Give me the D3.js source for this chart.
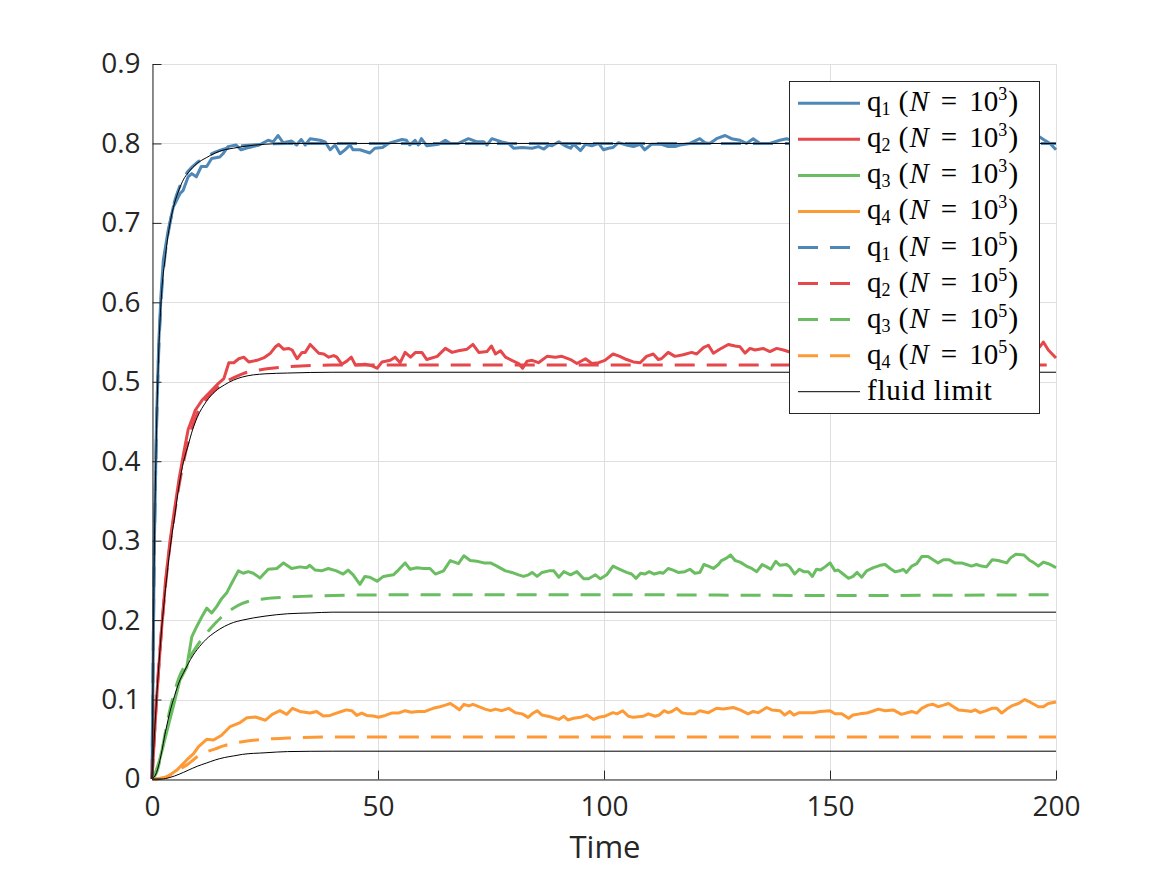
<!DOCTYPE html>
<html>
<head>
<meta charset="utf-8">
<script src="https://d3js.org/d3.v7.min.js"></script>
<style>
  body { margin: 0; background: #fff; }
  .axis text { font-family: "Open Sans", sans-serif; font-size: 28px; fill: #262626; }
  .axis path, .axis line { stroke: #262626; }
</style>
</head>
<body>
<div id="chart"></div>
<script>
// tick values / labels
var timeTicks = [0, 50, 100, 150, 200];
var timeTickLabels = ["0", "50", "100", "150", "200"];
var valueTicks = [0, 0.1, 0.2, 0.3, 0.4, 0.5, 0.6, 0.7, 0.8, 0.9];
var valueTickLabels = ["0", "0.1", "0.2", "0.3", "0.4", "0.5", "0.6", "0.7", "0.8", "0.9"];

// [time, value], N = 10^3 runs
var q1Small = [[0,0],[0.5,0.29],[1,0.45],[1.5,0.55],[2,0.61],[2.5,0.653],[3.6,0.691],[4.7,0.72],[6.2,0.737],[6.9,0.741],[8,0.758],[8.8,0.762],[9.8,0.758],[10.9,0.771],[12.1,0.771],[13.2,0.781],[15,0.783],[15.7,0.787],[16.8,0.796],[18.6,0.798],[19.7,0.792],[21.5,0.795],[23.7,0.798],[25.7,0.804],[26.8,0.802],[27.9,0.81],[29,0.801],[30.9,0.803],[32,0.798],[33,0.805],[33.9,0.798],[35,0.806],[37.2,0.804],[38.3,0.802],[39.4,0.792],[40.5,0.798],[41.6,0.787],[42.7,0.792],[43.8,0.798],[44.5,0.792],[46,0.792],[48.2,0.788],[49.3,0.794],[51,0.795],[52.3,0.8],[53.4,0.802],[55.3,0.805],[56.3,0.804],[57,0.798],[58.2,0.804],[58.9,0.798],[59.6,0.806],[60.8,0.797],[63.4,0.799],[64.9,0.804],[66,0.8],[67.8,0.8],[70,0.806],[71.9,0.802],[73.4,0.802],[74.1,0.798],[75.2,0.806],[77.4,0.802],[78.9,0.8],[80,0.794],[81.9,0.795],[84.1,0.794],[85.5,0.796],[86.7,0.793],[87.8,0.798],[88.5,0.797],[90,0.802],[91.4,0.797],[92.6,0.794],[93.3,0.799],[94.8,0.791],[95.9,0.799],[97.3,0.797],[98.8,0.8],[99.9,0.792],[101,0.794],[102,0.795],[103.2,0.801],[105,0.798],[106.5,0.796],[108,0.799],[109,0.792],[110.5,0.799],[112.7,0.799],[114.2,0.796],[115.7,0.796],[116.8,0.798],[119,0.8],[119.7,0.802],[121.2,0.806],[122.3,0.801],[123.4,0.8],[124.9,0.806],[126.8,0.81],[128.2,0.806],[130.1,0.804],[131.5,0.8],[133,0.806],[134.5,0.8],[136.7,0.8],[138.9,0.804],[140.4,0.806],[143,0.801],[146,0.797],[149,0.803],[152,0.799],[155,0.804],[158,0.798],[161,0.802],[164,0.796],[167,0.801],[170,0.805],[173,0.799],[176,0.802],[179,0.797],[182,0.803],[185,0.8],[188,0.796],[191,0.802],[194,0.805],[196.4,0.808],[197.5,0.804],[198.7,0.8],[200,0.792]];

var q2Small = [[0,0],[1,0.1],[2,0.18],[3,0.25],[4,0.3],[5,0.34],[6,0.378],[7,0.41],[8,0.44],[9,0.455],[9.6,0.4645],[11.1,0.477],[12.9,0.4875],[14.7,0.498],[15.9,0.504],[17,0.524],[18.1,0.524],[19.2,0.529],[20.3,0.531],[21.4,0.525],[23.2,0.527],[24.7,0.53],[26.2,0.536],[27.3,0.544],[28,0.547],[29.1,0.541],[30.2,0.542],[31,0.54],[32.1,0.529],[33.2,0.537],[33.9,0.537],[35,0.547],[36.9,0.536],[38,0.535],[39.1,0.531],[40.2,0.533],[40.9,0.531],[42,0.522],[43.1,0.526],[44.1,0.531],[45,0.521],[47.2,0.522],[48.7,0.52],[49.8,0.517],[50.9,0.525],[52.7,0.527],[53.8,0.531],[54.9,0.524],[56,0.537],[57.2,0.531],[58.3,0.537],[59.7,0.537],[60.8,0.528],[63.1,0.532],[64.9,0.542],[66.4,0.537],[67.8,0.539],[69.7,0.541],[71,0.547],[72.3,0.537],[74.1,0.538],[75.1,0.545],[76,0.535],[77.1,0.539],[78.2,0.531],[79.6,0.527],[81.1,0.523],[82,0.517],[83,0.526],[84.1,0.527],[85.5,0.524],[87.4,0.532],[89.2,0.531],[90.7,0.532],[92.6,0.528],[94,0.523],[95.9,0.529],[97.3,0.523],[98.8,0.524],[100.2,0.527],[102,0.535],[103.5,0.532],[105,0.528],[106.5,0.525],[108,0.524],[109.4,0.532],[110.9,0.535],[112,0.528],[112.7,0.529],[114.2,0.537],[115.7,0.532],[117.5,0.534],[119.4,0.537],[120.5,0.535],[122,0.543],[123.1,0.546],[124.2,0.536],[125.6,0.541],[127.5,0.547],[129,0.545],[130.1,0.544],[131.2,0.536],[132.3,0.542],[133.4,0.54],[135.2,0.542],[136.7,0.538],[138.2,0.542],[139.7,0.54],[143,0.534],[146,0.538],[149,0.531],[152,0.536],[155,0.541],[158,0.533],[161,0.537],[164,0.542],[167,0.535],[170,0.53],[173,0.536],[176,0.54],[179,0.534],[182,0.529],[185,0.535],[188,0.539],[191,0.532],[194,0.537],[196.4,0.544],[197.2,0.55],[198.3,0.54],[200,0.53]];

var q3Small = [[0,0],[0.3,0.001],[1.5,0.02],[3.2,0.058],[4.7,0.091],[6.2,0.125],[7.7,0.141],[8.8,0.179],[9.9,0.192],[11,0.204],[12.1,0.215],[13.2,0.209],[14.3,0.217],[15.4,0.227],[16.5,0.234],[17.6,0.246],[19.1,0.262],[20.2,0.259],[21.3,0.261],[22.4,0.259],[23.9,0.253],[25.7,0.264],[27.6,0.265],[29.1,0.272],[30.9,0.265],[32.7,0.267],[34.2,0.266],[34.9,0.269],[36.1,0.263],[37.5,0.262],[39,0.265],[40.8,0.262],[42.3,0.258],[43.4,0.263],[44.5,0.257],[46,0.245],[47.1,0.255],[48.2,0.254],[49.8,0.249],[51.2,0.255],[53.4,0.257],[54.5,0.263],[56,0.272],[57.1,0.264],[58.6,0.266],[60.1,0.265],[61.5,0.265],[62.7,0.258],[64.5,0.262],[66,0.275],[67.8,0.271],[69,0.281],[70.4,0.275],[71.9,0.274],[73.4,0.272],[74.9,0.272],[76.3,0.268],[78.2,0.262],[79.6,0.26],[81.1,0.257],[82.2,0.255],[83.3,0.257],[84.1,0.26],[85.2,0.255],[86.3,0.26],[87.8,0.262],[88.9,0.262],[90,0.254],[91.1,0.261],[92.6,0.257],[94,0.261],[95.5,0.252],[96.6,0.252],[98.1,0.257],[99.2,0.252],[100.6,0.257],[102,0.268],[103.5,0.264],[105,0.26],[106.1,0.258],[107.1,0.2526],[108.1,0.259],[109.1,0.258],[110,0.261],[111.1,0.258],[112.4,0.26],[113.1,0.259],[114.2,0.265],[115.3,0.263],[116.4,0.26],[117.9,0.261],[119,0.264],[120.1,0.259],[121.2,0.26],[122.1,0.27],[123.1,0.268],[124.2,0.265],[125.3,0.27],[126,0.275],[127.1,0.278],[128,0.282],[129,0.275],[130.1,0.273],[131.5,0.268],[132.7,0.265],[133.8,0.261],[135,0.27],[136,0.267],[136.9,0.264],[138,0.274],[138.9,0.269],[140.4,0.27],[141.1,0.267],[142.2,0.258],[143.2,0.264],[144.2,0.261],[145.2,0.261],[146.1,0.255],[147,0.264],[147.9,0.263],[148.9,0.267],[150,0.272],[151.1,0.262],[151.8,0.263],[152.9,0.258],[154.1,0.2526],[155.1,0.255],[156,0.26],[157,0.254],[158.1,0.262],[159.6,0.266],[161.1,0.269],[162.2,0.27],[163.3,0.265],[164.4,0.261],[165.5,0.262],[166.2,0.264],[166.9,0.26],[168.1,0.268],[169.2,0.271],[170.3,0.28],[171.7,0.28],[172.8,0.276],[173.9,0.272],[175.1,0.276],[176.4,0.276],[177.6,0.272],[179.1,0.272],[180.2,0.27],[181.3,0.268],[182.4,0.27],[183.5,0.268],[184.6,0.267],[185.9,0.276],[187.2,0.275],[189.1,0.272],[189.9,0.278],[191.1,0.283],[192.9,0.282],[194.2,0.275],[194.9,0.273],[196.1,0.268],[197.2,0.273],[198.3,0.271],[199.4,0.268],[200,0.266]];

var q4Small = [[0,0],[1,0],[3.2,0.002],[5.5,0.0112],[7.7,0.024],[9.2,0.032],[10.3,0.0407],[12.1,0.05],[13.6,0.049],[15.4,0.055],[17.3,0.066],[19.5,0.071],[21,0.077],[22.9,0.078],[25.1,0.074],[26.6,0.0814],[28.3,0.086],[29.8,0.0814],[31.1,0.089],[32.7,0.085],[35,0.083],[36.4,0.085],[37.9,0.0793],[39.4,0.08],[40.8,0.083],[41.9,0.085],[43,0.087],[44.2,0.086],[45.3,0.08],[46.4,0.083],[47.5,0.08],[49,0.0793],[50.1,0.0777],[51.6,0.08],[53,0.083],[54.5,0.083],[56,0.086],[57.4,0.084],[58.9,0.085],[60.4,0.085],[62.2,0.089],[63.7,0.091],[64.9,0.093],[66,0.095],[67.1,0.091],[68,0.087],[69,0.094],[70.1,0.092],[71,0.094],[72.3,0.091],[73.7,0.088],[74.9,0.086],[76,0.088],[77.4,0.086],[78.9,0.089],[80.4,0.0835],[81.9,0.082],[83.2,0.0776],[84.1,0.082],[85.2,0.086],[86.3,0.0805],[88.1,0.0784],[90,0.075],[91.1,0.079],[92,0.0743],[93.3,0.0764],[94.8,0.0776],[96.2,0.0805],[97.7,0.075],[98.8,0.0776],[100.2,0.079],[102,0.0835],[102.9,0.082],[104.1,0.086],[105.4,0.079],[106.5,0.0776],[108.7,0.079],[109.8,0.082],[111.3,0.079],[112.2,0.0805],[113.3,0.086],[114.2,0.0835],[115,0.085],[116.1,0.089],[117.2,0.0835],[118.6,0.082],[120.1,0.082],[121.2,0.086],[123.1,0.0835],[124.9,0.089],[126.4,0.088],[128.6,0.09],[130.1,0.087],[131.9,0.082],[133,0.085],[134.1,0.0835],[136,0.09],[137.1,0.087],[138.9,0.086],[140,0.0805],[141.1,0.085],[142,0.0805],[143.2,0.0835],[144.8,0.0835],[146.3,0.0835],[147.8,0.085],[150,0.086],[151.1,0.082],[152.6,0.082],[154.1,0.0764],[155.1,0.0805],[156.6,0.082],[158.1,0.083],[159.2,0.085],[160.7,0.088],[162.2,0.086],[164,0.087],[165.8,0.0814],[166.9,0.083],[168.1,0.085],[169.2,0.083],[170.3,0.089],[171.7,0.093],[172.8,0.094],[173.9,0.091],[175.1,0.093],[176.2,0.095],[177.3,0.091],[178.4,0.087],[180.2,0.086],[181.3,0.085],[182.1,0.087],[183.2,0.0835],[184.6,0.086],[185.8,0.089],[186.9,0.089],[188,0.083],[189.1,0.088],[190.2,0.092],[191.7,0.095],[193.1,0.1],[194.2,0.097],[196.1,0.091],[197.2,0.091],[198.3,0.095],[200,0.097]];

// N = 10^5 runs (smooth)
var q1Large = [[0,0],[0.5,0.28],[1,0.44],[1.5,0.54],[2,0.6],[3,0.665],[4,0.7],[5,0.727],[6,0.744],[7,0.756],[8,0.765],[10,0.776],[12,0.783],[14,0.789],[16,0.793],[18,0.795],[20,0.797],[25,0.799],[30,0.8],[60,0.8],[100,0.8],[150,0.8],[200,0.8]];
var q2Large = [[0,0],[1,0.1],[2,0.18],[3,0.245],[4,0.295],[5,0.335],[6,0.37],[7,0.4],[8,0.425],[9,0.445],[10,0.46],[12,0.478],[14,0.49],[16,0.499],[18,0.505],[20,0.51],[25,0.516],[30,0.519],[40,0.521],[100,0.521],[150,0.521],[200,0.521]];
var q3Large = [[0,0],[1,0.008],[2,0.03],[3,0.06],[4,0.088],[5,0.11],[6,0.128],[7,0.14],[8,0.15],[10,0.168],[12,0.183],[14,0.196],[16,0.207],[18,0.215],[20,0.221],[25,0.227],[30,0.229],[40,0.231],[60,0.232],[100,0.232],[150,0.231],[200,0.232]];
var q4Large = [[0,0],[2,0.001],[4,0.005],[6,0.012],[8,0.019],[10,0.028],[12,0.034],[14,0.038],[16,0.042],[18,0.045],[20,0.047],[25,0.05],[30,0.0515],[40,0.053],[100,0.053],[150,0.053],[200,0.053]];

// fluid limit
var fluid1 = [[0,0],[0.5,0.28],[1,0.44],[1.5,0.54],[2,0.6],[3,0.66],[4,0.7],[5,0.725],[6,0.742],[7,0.755],[8,0.763],[10,0.775],[12,0.782],[14,0.788],[16,0.792],[18,0.794],[20,0.796],[25,0.799],[30,0.8],[60,0.8],[100,0.8],[150,0.8],[200,0.8]];
var fluid2 = [[0,0],[1,0.1],[2,0.18],[3,0.24],[4,0.29],[5,0.33],[6,0.37],[7,0.4],[8,0.42],[9,0.44],[10,0.455],[12,0.475],[14,0.488],[16,0.496],[18,0.502],[20,0.506],[25,0.51],[30,0.511],[40,0.512],[100,0.512],[200,0.512]];
var fluid3 = [[0,0],[1,0.008],[2,0.03],[3,0.06],[4,0.085],[5,0.105],[6,0.122],[7,0.134],[8,0.145],[9,0.155],[10,0.163],[12,0.176],[14,0.185],[16,0.192],[18,0.197],[20,0.2],[25,0.205],[30,0.208],[35,0.209],[40,0.21],[100,0.21],[200,0.21]];
var fluid4 = [[0,0],[2,0],[4,0.002],[6,0.006],[8,0.011],[10,0.016],[12,0.02],[14,0.024],[16,0.027],[18,0.029],[20,0.031],[25,0.033],[30,0.0345],[40,0.035],[100,0.035],[200,0.035]];

var queueColors = ["#4f88b6", "#e6474a", "#6abd60", "#fd9a36"];

function init() {
    drawChart();
}

function drawChart() {
    var w = 1167;
    var h = 875;

    var x = d3.scaleLinear().domain([0, 200]).range([152, 1056]);
    var y = d3.scaleLinear().domain([0, 0.9]).range([779, 64]);

    var svg = d3.select("#chart")
        .append("svg")
        .attr("width", w)
        .attr("height", h);

    svg.append("defs").append("clipPath")
        .attr("id", "plotclip")
        .append("rect")
        .attr("x", 150).attr("y", 60)
        .attr("width", 908).attr("height", 721);

    // grid
    var grid = svg.append("g").attr("stroke", "#dfdfdf").attr("stroke-width", 1);
    grid.selectAll(".gx")
        .data(timeTicks)
        .enter()
        .append("line")
        .attr("x1", function (d) { return x(d) + 0.5; })
        .attr("x2", function (d) { return x(d) + 0.5; })
        .attr("y1", y(0)).attr("y2", y(0.9));
    grid.selectAll(".gy")
        .data(valueTicks)
        .enter()
        .append("line")
        .attr("y1", function (d) { return Math.round(y(d)) + 0.5; })
        .attr("y2", function (d) { return Math.round(y(d)) + 0.5; })
        .attr("x1", x(0)).attr("x2", x(200));

    var series = [
        { data: q1Small, color: queueColors[0], dash: null, width: 3 },
        { data: q2Small, color: queueColors[1], dash: null, width: 3 },
        { data: q3Small, color: queueColors[2], dash: null, width: 3 },
        { data: q4Small, color: queueColors[3], dash: null, width: 3 },
        { data: q1Large, color: queueColors[0], dash: "20,12", width: 3, smooth: true },
        { data: q2Large, color: queueColors[1], dash: "20,12", width: 3, smooth: true },
        { data: q3Large, color: queueColors[2], dash: "20,12", width: 3, smooth: true },
        { data: q4Large, color: queueColors[3], dash: "20,12", width: 3, smooth: true },
        { data: fluid1, color: "#000", dash: null, width: 1, smooth: true },
        { data: fluid2, color: "#000", dash: null, width: 1, smooth: true },
        { data: fluid3, color: "#000", dash: null, width: 1, smooth: true },
        { data: fluid4, color: "#000", dash: null, width: 1, smooth: true }
    ];

    var plot = svg.append("g").attr("clip-path", "url(#plotclip)");

    plot.selectAll("path")
        .data(series)
        .enter()
        .append("path")
        .attr("fill", "none")
        .attr("stroke", function (d) { return d.color; })
        .attr("stroke-width", function (d) { return d.width; })
        .attr("stroke-linejoin", "round")
        .attr("stroke-dasharray", function (d) { return d.dash; })
        .attr("d", function (d) {
            var line = d3.line()
                .x(function (p) { return x(p[0]); })
                .y(function (p) { return y(p[1]); })
                .curve(d.smooth ? d3.curveMonotoneX : d3.curveLinear);
            return line(d.data);
        });

    // axes
    var xAxis = d3.axisBottom(x)
        .tickValues(timeTicks)
        .tickFormat(function (d, i) { return timeTickLabels[i]; })
        .tickSizeInner(-9)
        .tickSizeOuter(0)
        .tickPadding(17);
    var yAxis = d3.axisLeft(y)
        .tickValues(valueTicks)
        .tickFormat(function (d, i) { return valueTickLabels[i]; })
        .tickSizeInner(-9)
        .tickSizeOuter(0)
        .tickPadding(12);

    svg.append("g")
        .attr("class", "axis")
        .attr("transform", "translate(0,779.5)")
        .call(xAxis);
    svg.append("g")
        .attr("class", "axis")
        .attr("transform", "translate(152.5,0)")
        .call(yAxis);
    svg.selectAll(".axis").attr("font-size", null).attr("font-family", null);

    svg.append("text")
        .attr("x", 605)
        .attr("y", 858)
        .attr("text-anchor", "middle")
        .attr("font-family", "Open Sans, sans-serif")
        .attr("font-size", 31)
        .attr("fill", "#262626")
        .text("Time");

    // legend
    var legendRows = [
        { q: "1", n: "3", color: queueColors[0], dash: null, w: 3 },
        { q: "2", n: "3", color: queueColors[1], dash: null, w: 3 },
        { q: "3", n: "3", color: queueColors[2], dash: null, w: 3 },
        { q: "4", n: "3", color: queueColors[3], dash: null, w: 3 },
        { q: "1", n: "5", color: queueColors[0], dash: "20,12", w: 3 },
        { q: "2", n: "5", color: queueColors[1], dash: "20,12", w: 3 },
        { q: "3", n: "5", color: queueColors[2], dash: "20,12", w: 3 },
        { q: "4", n: "5", color: queueColors[3], dash: "20,12", w: 3 },
        { fluid: true, color: "#000", dash: null, w: 1 }
    ];

    var legend = svg.append("g");
    legend.append("rect")
        .attr("x", 789.5).attr("y", 81.5)
        .attr("width", 250).attr("height", 332)
        .attr("fill", "#fff")
        .attr("stroke", "#262626")
        .attr("stroke-width", 1);

    var rows = legend.selectAll(".row")
        .data(legendRows)
        .enter()
        .append("g")
        .attr("transform", function (d, i) { return "translate(0," + (103.3 + i * 36.05) + ")"; });

    rows.append("line")
        .attr("x1", 798).attr("x2", 860)
        .attr("stroke", function (d) { return d.color; })
        .attr("stroke-width", function (d) { return d.w; })
        .attr("stroke-dasharray", function (d) { return d.dash; });

    var txt = rows.append("text")
        .attr("x", 867)
        .attr("y", 8)
        .attr("font-family", "Liberation Serif, serif")
        .attr("font-size", 29)
        .attr("fill", "#000");

    txt.each(function (d) {
        var t = d3.select(this);
        if (d.fluid) {
            t.attr("letter-spacing", 0.8).text("fluid limit");
            return;
        }
        t.append("tspan").text("q");
        t.append("tspan").attr("font-size", 18).attr("dy", 4).text(d.q);
        t.append("tspan").attr("font-size", 30).attr("dy", -4).attr("dx", 8).text("(");
        t.append("tspan").attr("font-style", "italic").attr("dx", 1).text("N");
        t.append("tspan").attr("dx", 12).text("=");
        t.append("tspan").attr("dx", 12).text("10");
        t.append("tspan").attr("font-size", 18).attr("dy", -11).text(d.n);
        t.append("tspan").attr("font-size", 30).attr("dy", 11).attr("dx", 1).text(")");
    });
}

window.onload = init;
</script>
</body>
</html>
